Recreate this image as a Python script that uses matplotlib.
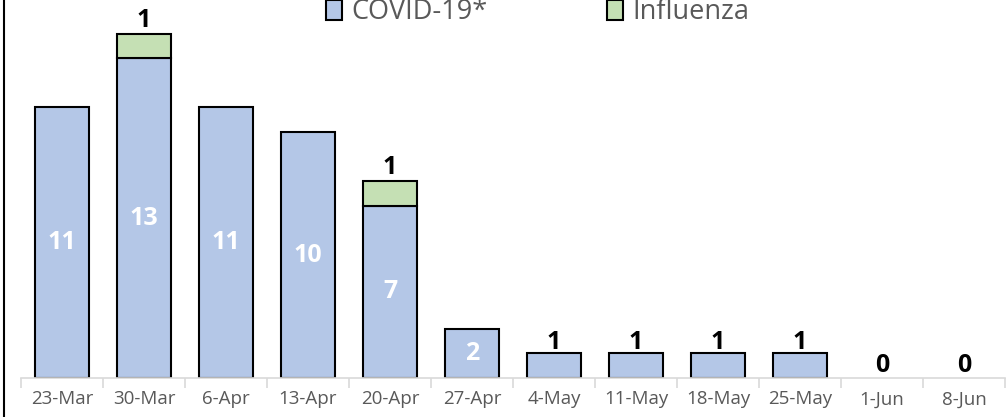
import numpy as np
import matplotlib.pyplot as plt
from matplotlib.lines import Line2D

weeks = ['23-Mar', '30-Mar', '6-Apr', '13-Apr', '20-Apr', '27-Apr', '4-May',
         '11-May', '18-May', '25-May', '1-Jun', '8-Jun']
covid = [11, 13, 11, 10, 7, 2, 1, 1, 1, 1, 0, 0]
flu = [0, 1, 0, 0, 1, 0, 0, 0, 0, 0, 0, 0]

plt.rcParams['font.family'] = ['Open Sans', 'DejaVu Sans']

fig = plt.figure(figsize=(10.08, 4.17), dpi=100)
ax = fig.add_axes([21 / 1008, 1 - 378 / 417, 984 / 1008, 378 / 417])

x = np.arange(len(weeks))
covid = np.array(covid)
flu = np.array(flu)
w = 0.66

# skip empty bars so no outline is drawn on the baseline
cm = covid > 0
fm = flu > 0
ax.bar(x[cm], covid[cm], w, color='#B4C7E7', edgecolor='black', linewidth=1.5,
       label='COVID-19*', zorder=2)
ax.bar(x[fm], flu[fm], w, bottom=covid[fm], color='#C5E0B4', edgecolor='black',
       linewidth=1.5, label='Influenza', zorder=2)

# data labels
for i in range(len(x)):
    c = covid[i]
    if c >= 2:
        ax.text(x[i], c / 2, str(c), ha='center', va='center', color='white',
                fontsize=18, fontweight='bold', zorder=3)
    elif c == 1:
        ax.text(x[i], c + 0.45, str(c), ha='center', va='center', color='black',
                fontsize=18, fontweight='bold', zorder=3)
    else:
        ax.text(x[i], 0.5, str(c), ha='center', va='center', color='black',
                fontsize=18, fontweight='bold', zorder=3)
    if flu[i] > 0:
        ax.text(x[i], c + flu[i] + 0.55, str(flu[i]), ha='center', va='center',
                color='black', fontsize=18, fontweight='bold', zorder=3)

ax.set_xlim(-0.5, len(weeks) - 0.5)
ax.set_ylim(0, 378 / 24.6)
ax.set_xticks(x)
ax.set_xticklabels(weeks, color='#595959', fontsize=13.5)
ax.set_xticks(np.arange(len(weeks) + 1) - 0.5, minor=True)
ax.tick_params(axis='x', which='major', length=0, pad=9)
ax.tick_params(axis='x', which='minor', length=7, color='#D9D9D9', width=1.2,
               direction='out')
ax.set_yticks([])
for s in ['top', 'right', 'left']:
    ax.spines[s].set_visible(False)
ax.spines['bottom'].set_color('#D9D9D9')
ax.spines['bottom'].set_linewidth(1.2)

leg = ax.legend(loc='center', bbox_to_anchor=(0.525, 0.968), ncol=2,
                frameon=False, fontsize=19.5, handlelength=0.6, handleheight=0.75,
                columnspacing=4.4, handletextpad=0.35)
for t in leg.get_texts():
    t.set_color('#595959')

# left border line
fig.add_artist(Line2D([4 / 1008, 4 / 1008], [0, 1], color='black', linewidth=1.5))

fig.savefig('out.png', dpi=100)
